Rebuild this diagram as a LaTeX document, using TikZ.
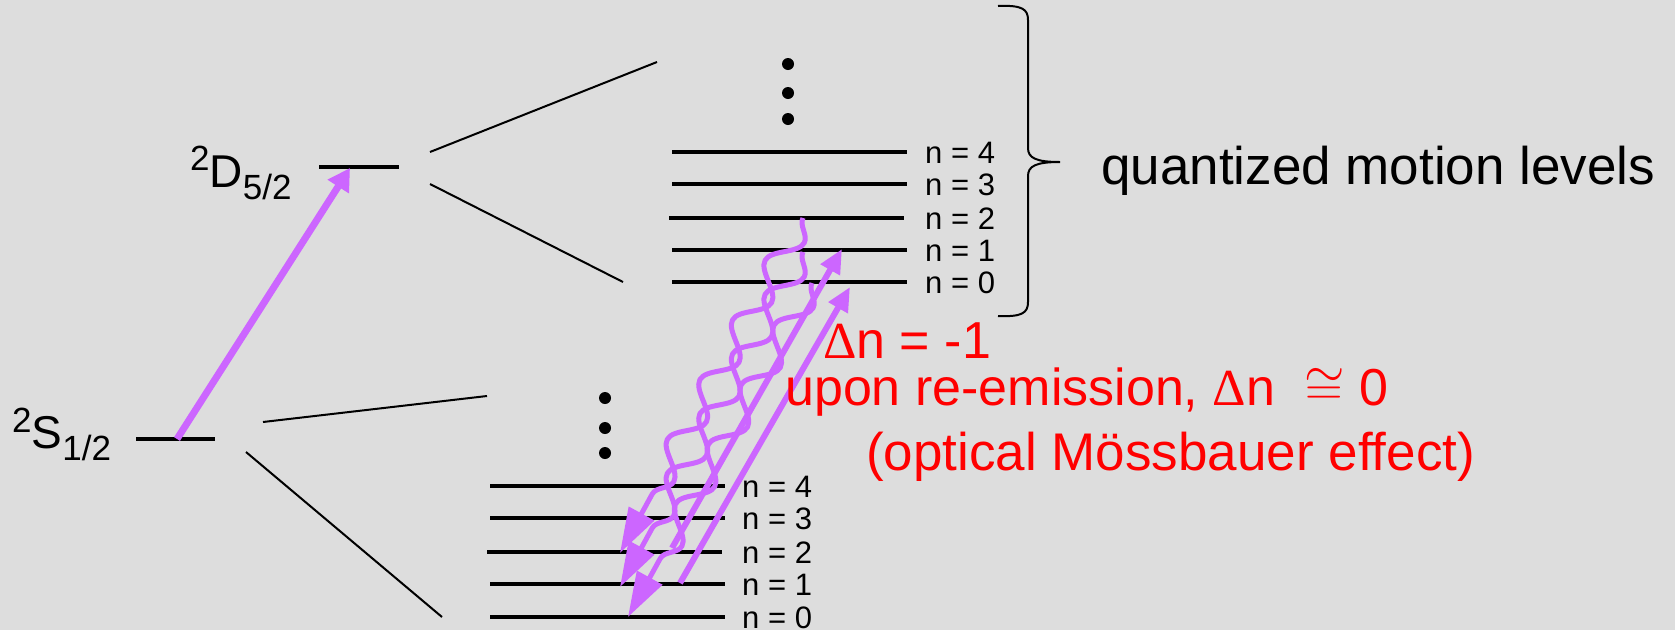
\RequirePackage{fix-cm}
\documentclass[tikz,border=0pt]{standalone}
\usepackage{fontspec}
\setmainfont{Liberation Sans}
\newfontfamily\greekserif{Liberation Serif}
\usetikzlibrary{arrows.meta,decorations.pathmorphing}
\definecolor{bgcol}{RGB}{221,221,221}
\definecolor{lasercol}{RGB}{204,102,255}
\newcommand{\fsz}[1]{\fontsize{#1}{#1}\selectfont}
\newcommand{\shifted}[2]{{\fsz{35}\raisebox{#1}{#2}}}
\begin{document}
\begin{tikzpicture}[x=1pt,y=-1pt,
  level/.style={line width=3.5pt},
  thinline/.style={line width=2pt},
  nlab/.style={anchor=base west,inner sep=0pt,font=\fsz{31}},
  termlab/.style={anchor=base west,inner sep=0pt,font=\fsz{46}},
  redtext/.style={anchor=base west,inner sep=0pt,text=red,font=\fsz{52}},
  blacktext/.style={anchor=base west,inner sep=0pt,font=\fsz{53}},
  pump/.style={draw=lasercol,line width=7pt,-{Triangle[length=22pt,width=24pt]}},
  sideband/.style={draw=lasercol,line width=6pt,-{Triangle[length=24pt,width=21pt]}},
  emission/.style={draw=lasercol,line width=5pt,line join=round,decorate,
    decoration={snake,segment length=68pt,amplitude=13pt,post length=40pt},
    -{Triangle[length=45pt,width=28pt]}},
  dot/.style={fill=black}]

\fill[bgcol] (0,0) rectangle (1675,630);
\useasboundingbox (0,0) rectangle (1675,630);

% electronic levels
\draw[level] (319,167) coordinate (Dw) -- (399,167) coordinate (De);
\draw[level] (136,439) coordinate (Sw) -- (215,439) coordinate (Se);
\node[termlab] (Dlab) at (190,187) {\shifted{17pt}{2}D\shifted{-12pt}{5/2}};
\node[termlab] (Slab) at (12,448) {\shifted{16pt}{2}S\shifted{-12pt}{1/2}};

% upper motional levels
\foreach \k/\y/\xa/\xb in {0/282/672/907,1/250/672/907,2/218/669/904,3/184/672/907,4/152/672/907}{
  \draw[level] (\xa,\y) coordinate (U\k w) -- (\xb,\y) coordinate (U\k e);
  \node[nlab] (UL\k) at (925,\y+11) {n = \k};
}
% lower motional levels
\foreach \k/\y/\xa/\xb in {0/617/490/725,1/584/490/725,2/552/487/722,3/518/490/725,4/486/490/725}{
  \draw[level] (\xa,\y) coordinate (L\k w) -- (\xb,\y) coordinate (L\k e);
  \node[nlab] (LL\k) at (742,\y+11) {n = \k};
}

% dots
\fill[dot] (788,64) circle (6) (788,93) circle (6) (788,119) circle (6);
\fill[dot] (605,398) circle (6) (605,428) circle (6) (605,453) circle (6);

% fan lines
\coordinate (Da) at (430,152); \coordinate (Db) at (657,62);
\coordinate (Dc) at (430,184); \coordinate (Dd) at (623,282);
\coordinate (Sa) at (263,422); \coordinate (Sb) at (487,396);
\coordinate (Sc) at (246,452); \coordinate (Sd) at (442,617);
\draw[thinline] (Da) -- (Db);
\draw[thinline] (Dc) -- (Dd);
\draw[thinline] (Sa) -- (Sb);
\draw[thinline] (Sc) -- (Sd);

% brace
\draw[thinline] (998,6) .. controls (1022,5) and (1028,9) .. (1028,20)
  -- (1028,148) .. controls (1028,158) and (1036,162) .. (1060,162)
  .. controls (1036,162) and (1028,166) .. (1028,176)
  -- (1028,302) .. controls (1028,313) and (1022,317) .. (998,316);
\node[blacktext] (qml) at (1101,184) {quantized motion levels};

% pump arrow
\coordinate (P0) at (177,439); \coordinate (P1) at (350,168);
\draw[pump] (P0) -- (P1);

% sideband arrows
\coordinate (A1s) at (680,583); \coordinate (A1e) at (850,287);
\coordinate (A2s) at (672,548); \coordinate (A2e) at (842,249);
\draw[sideband] (A1s) -- (A1e);
\draw[sideband] (A2s) -- (A2e);

% spontaneous emission
\coordinate (W1s) at (803,218); \coordinate (W1e) at (620,553);
\coordinate (W2s) at (803,252); \coordinate (W2e) at (620,587);
\coordinate (W3s) at (812,283); \coordinate (W3e) at (628,617);
\draw[emission] (W1s) -- (W1e);
\draw[emission] (W2s) -- (W2e);
\draw[emission] (W3s) -- (W3e);

% red text
\node[redtext] (t1) at (823,358) {{\greekserif Δ}n = -1};
\node[redtext] (t2) at (785,405) {upon re-emission, {\greekserif Δ}n\ \ $\cong$ 0};
\node[redtext] (t3) at (866,470) {\fsz{53}(optical Mössbauer effect)};
\end{tikzpicture}
\end{document}
